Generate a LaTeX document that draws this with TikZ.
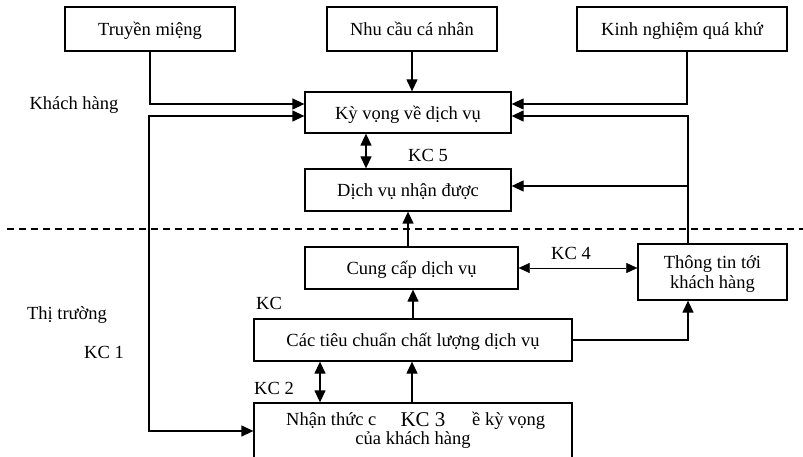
\documentclass[tikz,border=0pt]{standalone}
\usepackage{fontspec}
\setmainfont{Liberation Serif}
\usetikzlibrary{arrows.meta,calc}
\begin{document}
\begin{tikzpicture}[x=1pt,y=-1pt,
  font=\fontsize{18.5}{19.5}\selectfont,
  box/.style={draw,line width=1.3pt,inner sep=0pt,align=center,text depth=0pt},
  arr/.style={line width=1.3pt,-{Triangle[length=12pt,width=11pt]}},
  darr/.style={line width=1.3pt,{Triangle[length=12pt,width=11pt]}-{Triangle[length=12pt,width=11pt]}},
  tarr/.style={line width=0.5pt,{Triangle[length=11pt,width=10pt]}-{Triangle[length=11pt,width=10pt]}},
  lbl/.style={inner sep=0pt}]
\useasboundingbox (0,0) rectangle (803,457);
% boxes
\node[box,minimum width=170pt,minimum height=44pt] (tm) at (150,29) {Truyền miệng};
\node[box,minimum width=170pt,minimum height=44pt] (nc) at (412,29) {Nhu cầu cá nhân};
\node[box,minimum width=210pt,minimum height=44pt] (kn) at (682,29) {Kinh nghiệm quá khứ};
\node[box,minimum width=206pt,minimum height=41pt] (kv) at (408,112.5) {Kỳ vọng về dịch vụ};
\node[box,minimum width=206pt,minimum height=42pt] (dv) at (408,190) {Dịch vụ nhận được};
\node[box,minimum width=213pt,minimum height=42pt] (cc) at (411.5,268) {Cung cấp dịch vụ};
\node[box,minimum width=149pt,minimum height=56pt] (tt) at (712.5,272) {Thông tin tới\\khách hàng};
\node[box,minimum width=318pt,minimum height=42pt] (tc) at (413,340) {Các tiêu chuẩn chất lượng dịch vụ};
\node[box,minimum width=318pt,minimum height=70pt] (nt) at (413,438) {};
% texts in the bottom box
\node[lbl,anchor=west] (nt1) at (286,421) {Nhận thức c};
\node[lbl,font=\fontsize{21}{22}\selectfont] (kc3) at (423,420) {KC 3};
\node[lbl,anchor=west] (nt2) at (472,421) {ề kỳ vọng};
\node[lbl] (nt3) at (413,440) {của khách hàng};
% dashed divider
\coordinate (dl) at (7,229);
\coordinate (dr) at (803,229);
\draw[line width=1.2pt,dash pattern=on 7pt off 5pt] (dl) -- (dr);
% side labels
\node[lbl] (kh) at (74,105) {Khách hàng};
\node[lbl] (tr) at (67,315) {Thị trường};
\node[lbl] (kc1) at (104,352) {KC 1};
\node[lbl] (kc5) at (428,155) {KC 5};
\node[lbl] (kc) at (269,303) {KC};
\node[lbl] (kc2) at (274,388) {KC 2};
\node[lbl] (kc4) at (571,253) {KC 4};
% connectors
\draw[arr] (tm.south) |- ($(kv.west)+(0,-8.5)$);
\draw[arr] (nc.south) -- (nc.south |- kv.north);
\draw[arr] ($(kn.south)+(5,0)$) |- ($(kv.east)+(0,-8.5)$);
\coordinate (ttu) at ($(tt.north)+(-24.5,0)$);
\draw[arr] (ttu) |- ($(kv.east)+(0,3.5)$);
\coordinate (j) at ($(ttu |- dv.east)+(0,-4)$);
\draw[arr] (j) -- (j -| dv.east);
\draw[darr] ($(kv.south)+(-42,0)$) -- ($(dv.north)+(-42,0)$);
\draw[arr] (cc.north -| dv.south) -- (dv.south);
\draw[tarr] (cc.east) -- (cc.east -| tt.west);
\draw[arr] (tc.north) -- (tc.north |- cc.south);
\draw[arr] (tc.east) -| ($(tt.south)+(-24.5,0)$);
\coordinate (d2) at ($(tc.south)+(-93,0)$);
\draw[darr] (d2) -- (d2 |- nt.north);
\draw[arr] ($(nt.north)+(-1,0)$) -- ($(tc.south)+(-1,0)$);
\coordinate (lp) at (149,431);
\draw[darr] ($(kv.west)+(0,3.5)$) -| (lp) -- (lp -| nt.west);
\end{tikzpicture}
\end{document}
